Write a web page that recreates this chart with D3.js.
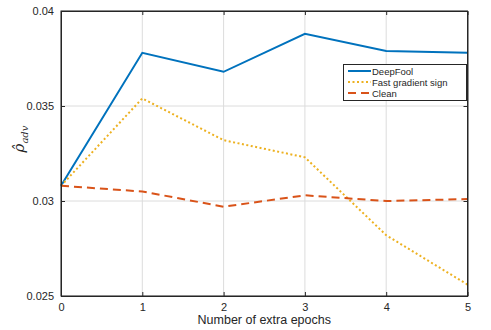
<!DOCTYPE html>
<html><head><meta charset="utf-8">
<script src="https://cdn.jsdelivr.net/npm/d3@7"></script>
<style>body{margin:0;background:#fff}svg{display:block}</style>
</head><body>
<script>
const epochs = [0, 1, 2, 3, 4, 5];
const deepFool = [0.0308, 0.0378, 0.0368, 0.0388, 0.0379, 0.0378];
const fastGradient = [0.0308, 0.0354, 0.0332, 0.0323, 0.0282, 0.0256];
const clean = [0.0308, 0.0305, 0.0297, 0.0303, 0.0300, 0.0301];
const yTicks = [0.025, 0.03, 0.035, 0.04];
const yTickLabels = ["0.025", "0.03", "0.035", "0.04"];
const seriesNames = ["DeepFool", "Fast gradient sign", "Clean"];

const W = 491, H = 330;
const m = {l: 61, r: 23.5, t: 11, b: 34};
const svg = d3.select("body").append("svg").attr("width", W).attr("height", H);
const x = d3.scaleLinear().domain([0, 5]).range([m.l, W - m.r]);
const y = d3.scaleLinear().domain([0.025, 0.04]).range([H - m.b, m.t]);
const font = "Liberation Sans, Arial, sans-serif";

// grid
const g = svg.append("g");
g.selectAll(".gx").data(epochs).enter().append("line")
  .attr("x1", d => x(d)).attr("x2", d => x(d)).attr("y1", y(0.025)).attr("y2", y(0.04))
  .attr("stroke", "#dcdcdc").attr("stroke-width", 1);
g.selectAll(".gy").data(yTicks).enter().append("line")
  .attr("x1", x(0)).attr("x2", x(5)).attr("y1", d => y(d)).attr("y2", d => y(d))
  .attr("stroke", "#dcdcdc").attr("stroke-width", 1);

// series
const series = [
  {vals: deepFool, color: "#0072BD", dash: null, w: 2},
  {vals: fastGradient, color: "#EDB120", dash: "2,2.5", w: 2},
  {vals: clean, color: "#D95319", dash: "8,5", w: 2}
];
const line = d3.line().x((d, i) => x(epochs[i])).y(d => y(d));
series.forEach(s => {
  svg.append("path").attr("d", line(s.vals)).attr("fill", "none")
    .attr("stroke", s.color).attr("stroke-width", s.w)
    .attr("stroke-dasharray", s.dash);
});

// axes box
const axColor = "#262626";
svg.append("rect").attr("x", x(0)).attr("y", y(0.04)).attr("width", x(5) - x(0)).attr("height", y(0.025) - y(0.04))
  .attr("fill", "none").attr("stroke", axColor).attr("stroke-width", 1);

const xAxis = d3.axisBottom(x).tickValues(epochs).tickSizeInner(-4).tickSizeOuter(0).tickPadding(7).tickFormat(d3.format("d"));
const xa = svg.append("g").attr("transform", `translate(0,${y(0.025)})`).call(xAxis);
const xAxisTop = d3.axisTop(x).tickValues(epochs).tickSizeInner(-4).tickSizeOuter(0).tickFormat("");
const xt = svg.append("g").attr("transform", `translate(0,${y(0.04)})`).call(xAxisTop);
const yAxis = d3.axisLeft(y).tickValues(yTicks).tickSizeInner(-4).tickSizeOuter(0).tickPadding(7)
  .tickFormat((d, i) => yTickLabels[i]);
const ya = svg.append("g").attr("transform", `translate(${x(0)},0)`).call(yAxis);
const yAxisR = d3.axisRight(y).tickValues(yTicks).tickSizeInner(-4).tickSizeOuter(0).tickFormat("");
const yr = svg.append("g").attr("transform", `translate(${x(5)},0)`).call(yAxisR);
[xa, xt, ya, yr].forEach(a => {
  a.select(".domain").attr("stroke", axColor);
  a.selectAll(".tick line").attr("stroke", axColor);
  a.selectAll("text").attr("fill", axColor).style("font-family", font).style("font-size", "11px");
});

// axis labels
svg.append("text").attr("x", (x(0) + x(5)) / 2).attr("y", 324).attr("text-anchor", "middle")
  .style("font-family", font).style("font-size", "12.5px").attr("fill", axColor).text("Number of extra epochs");
const yl = svg.append("text").attr("transform", `translate(24,139) rotate(-90)`)
  .attr("text-anchor", "middle").style("font-family", "DejaVu Serif, Liberation Serif, serif")
  .style("font-style", "italic").attr("fill", axColor);
yl.append("tspan").style("font-size", "15px").text("ρ\u0302");
yl.append("tspan").attr("dy", 4).style("font-size", "10px").text("adv");

// legend
const lg = svg.append("g");
lg.append("rect").attr("x", 343.5).attr("y", 64.5).attr("width", 123).attr("height", 36)
  .attr("fill", "#fff").attr("stroke", axColor).attr("stroke-width", 1);
series.forEach((s, i) => {
  const yy = 71 + i * 11;
  lg.append("line").attr("x1", 348).attr("x2", 371).attr("y1", yy).attr("y2", yy)
    .attr("stroke", s.color).attr("stroke-width", s.w).attr("stroke-dasharray", s.dash);
  lg.append("text").attr("x", 372).attr("y", yy + 3.5).style("font-family", font).style("font-size", "9.5px")
    .attr("fill", axColor).text(seriesNames[i]);
});
</script>
</body></html>
